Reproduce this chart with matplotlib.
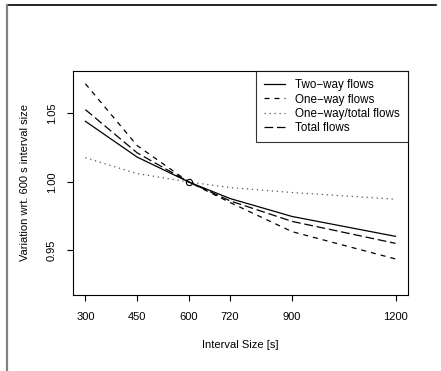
import numpy as np
import matplotlib
matplotlib.use("Agg")
import matplotlib.pyplot as plt
from matplotlib.lines import Line2D

plt.rcParams['font.family'] = ['Liberation Sans', 'DejaVu Sans']

# interval sizes [s]
intervals = [300, 450, 600, 720, 900, 1200]

# variation relative to the 600 s interval size
two_way = [1.0443, 1.0182, 1.0, 0.9879, 0.9748, 0.9603]
one_way = [1.0717, 1.0266, 1.0, 0.9850, 0.9637, 0.9438]
one_way_total = [1.0177, 1.0061, 1.0, 0.9959, 0.9923, 0.9874]
total = [1.0528, 1.0213, 1.0, 0.9862, 0.9712, 0.9552]

labels = ["Two\u2212way flows", "One\u2212way flows",
          "One\u2212way/total flows", "Total flows"]
yticks = [0.95, 1.00, 1.05]

fig = plt.figure(figsize=(4.41, 3.71), dpi=100)
ax = fig.add_axes([0.1655, 0.2049, 0.7595, 0.6037])

lw = 0.9
ax.plot(intervals, two_way, color="black", lw=lw, linestyle="-", label=labels[0])
ax.plot(intervals, one_way, color="black", lw=lw, linestyle=(0, (4, 4)), label=labels[1])
ax.plot(intervals, one_way_total, color="#555555", lw=lw, linestyle=(0, (1, 3)), label=labels[2])
ax.plot(intervals, total, color="black", lw=lw, linestyle=(0, (7, 3)), label=labels[3])
ax.plot([600], [1.0], marker="o", markersize=4.5, markerfacecolor="none",
        markeredgecolor="black", markeredgewidth=0.8, linestyle="none")

ax.set_xlim(264, 1236)
ax.set_ylim(0.9175, 1.081)
ax.set_xticks(intervals)
ax.set_xticklabels([str(v) for v in intervals])
ax.set_yticks(yticks)
ax.set_yticklabels(["%.2f" % v for v in yticks], rotation=90, va="center")

ax.tick_params(axis="x", direction="out", length=4.5, width=0.8, pad=8, labelsize=8)
ax.tick_params(axis="y", direction="out", length=4.5, width=0.8, pad=7, labelsize=8)
for s in ax.spines.values():
    s.set_linewidth(0.8)

ax.set_xlabel("Interval Size [s]", fontsize=8, labelpad=13)
ax.set_ylabel("Variation wrt. 600 s interval size", fontsize=8, labelpad=12)

leg = ax.legend(loc="upper right", borderaxespad=0, fontsize=8.4, frameon=True,
                fancybox=False, handlelength=1.8, handletextpad=0.85,
                labelspacing=0.2, borderpad=0.7)
leg.get_frame().set_edgecolor("black")
leg.get_frame().set_linewidth(0.8)

# page frame lines
fig.add_artist(Line2D([7 / 441, 436 / 441], [1 - 5 / 371, 1 - 5 / 371],
                      color="black", lw=1.2, transform=fig.transFigure))
fig.add_artist(Line2D([6.5 / 441, 6.5 / 441], [0, 1 - 5 / 371],
                      color="#808080", lw=1.6, transform=fig.transFigure))

fig.savefig("out.png", dpi=100)
